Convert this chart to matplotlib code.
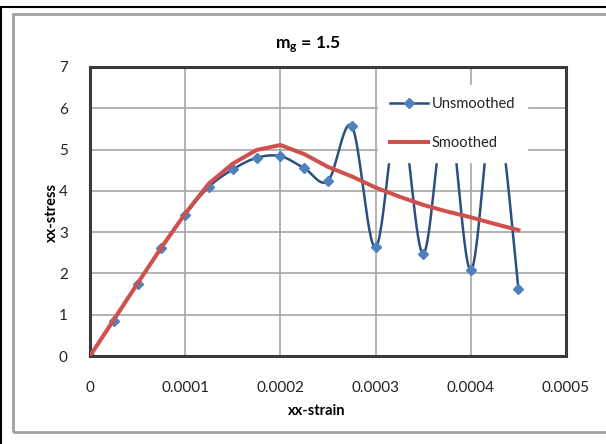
import numpy as np
import matplotlib
matplotlib.use("Agg")
import matplotlib.pyplot as plt
from matplotlib.patches import Rectangle
from matplotlib.lines import Line2D

plt.rcParams['font.family'] = ['Lato', 'DejaVu Sans']
plt.rcParams['mathtext.default'] = 'regular'

# ---- data ----
strain = [0, 0.000025, 0.00005, 0.000075, 0.0001, 0.000125, 0.00015, 0.000175,
          0.0002, 0.000225, 0.00025, 0.000275, 0.0003, 0.000325, 0.00035,
          0.000375, 0.0004, 0.000425, 0.00045]
unsmoothed = [0, 0.85, 1.75, 2.61, 3.42, 4.10, 4.52, 4.80, 4.84, 4.55, 4.24,
              5.57, 2.63, 6.0, 2.48, 6.1, 2.08, 6.2, 1.62]
smoothed = [0, 0.88, 1.76, 2.63, 3.45, 4.18, 4.66, 4.99, 5.11, 4.89, 4.58,
            4.35, 4.08, 3.86, 3.66, 3.50, 3.36, 3.20, 3.05]
x_ticks = [0, 0.0001, 0.0002, 0.0003, 0.0004, 0.0005]
x_tick_labels = ['0', '0.0001', '0.0002', '0.0003', '0.0004', '0.0005']
y_ticks = [0, 1, 2, 3, 4, 5, 6, 7]
title = 'm$_g$ = 1.5'
x_label = 'xx-strain'
y_label = 'xx-stress'
series_names = ['Unsmoothed', 'Smoothed']


def smooth_curve(x, y, n=30):
    """Excel-style smoothed line (cardinal spline through points)."""
    x = np.asarray(x, float)
    y = np.asarray(y, float)
    px = np.concatenate([[x[0]], x, [x[-1]]])
    py = np.concatenate([[y[0]], y, [y[-1]]])
    xs, ys = [], []
    for i in range(1, len(px) - 2):
        p0x, p1x, p2x, p3x = px[i - 1:i + 3]
        p0y, p1y, p2y, p3y = py[i - 1:i + 3]
        c1x = p1x + (p2x - p0x) / 6
        c1y = p1y + (p2y - p0y) / 6
        c2x = p2x - (p3x - p1x) / 6
        c2y = p2y - (p3y - p1y) / 6
        t = np.linspace(0, 1, n)
        b0 = (1 - t) ** 3
        b1 = 3 * (1 - t) ** 2 * t
        b2 = 3 * (1 - t) * t ** 2
        b3 = t ** 3
        xs.append(b0 * p1x + b1 * c1x + b2 * c2x + b3 * p2x)
        ys.append(b0 * p1y + b1 * c1y + b2 * c2y + b3 * p2y)
    return np.concatenate(xs), np.concatenate(ys)


W, H = 606, 444
fig = plt.figure(figsize=(W / 100, H / 100), dpi=100)

# outer frames
fig.patches.append(Rectangle((1 / W, 0 - 0.1), 1.2, 1 - 7 / H + 0.1,
                             transform=fig.transFigure, fill=False,
                             edgecolor='black', lw=1.5))
fig.patches.append(Rectangle((13 / W, 1 - 432 / H), 1.2, (432 - 14) / H,
                             transform=fig.transFigure, fill=False,
                             edgecolor='#A0A0A0', lw=2))

ax = fig.add_axes([90 / W, 1 - 356 / H, (566 - 90) / W, (356 - 67) / H])

sx, sy = smooth_curve(strain, unsmoothed)
ax.plot(sx, sy, color='#2B4F7E', lw=1.8, zorder=2)
ax.plot(strain, unsmoothed, ls='none', marker='D', ms=5.5,
        color='#4F81BD', zorder=2.5)
ax.plot(strain, smoothed, color='#D0504D', lw=2.9, zorder=3)

# legend
h1 = Line2D([], [], color='#2B4F7E', lw=1.8, marker='D', ms=5.5,
            markerfacecolor='#4F81BD', markeredgecolor='#4F81BD')
h2 = Line2D([], [], color='#D0504D', lw=2.9)
leg = ax.legend([h1, h2], series_names, loc='upper left',
                bbox_to_anchor=(378 / W, 1 - 85 / H), bbox_transform=fig.transFigure,
                frameon=True, fancybox=False, fontsize=10.5, numpoints=1,
                handlelength=2.6, handletextpad=0.3, labelspacing=1.75,
                borderpad=0.8, borderaxespad=0)
leg.get_frame().set_facecolor('white')
leg.get_frame().set_edgecolor('white')
leg.get_frame().set_alpha(1)
leg.set_zorder(10)
for t in leg.get_texts():
    t.set_color('#222222')

ax.set_xlim(0, 0.0005)
ax.set_ylim(0, 7)
ax.set_xticks(x_ticks)
ax.set_xticklabels(x_tick_labels)
ax.set_yticks(y_ticks)
ax.tick_params(length=0, labelsize=11, colors='#222222')
ax.tick_params(axis='x', pad=18)
ax.tick_params(axis='y', pad=16)
ax.grid(True, color='#A6A6A6', lw=1.2)
ax.set_axisbelow(True)
for s in ax.spines.values():
    s.set_color('#3A3A3A')
    s.set_linewidth(2.2)

fig.text(308 / W, 1 - 45 / H, title, ha='center', va='center',
         fontsize=12.5, fontweight='bold')
fig.text(317 / W, 1 - 411 / H, x_label, ha='center', va='center',
         fontsize=10.5, fontweight='bold')
fig.text(52 / W, 1 - 212 / H, y_label, ha='center', va='center',
         fontsize=10.5, fontweight='bold', rotation=90)

fig.savefig('out.png', dpi=100)
